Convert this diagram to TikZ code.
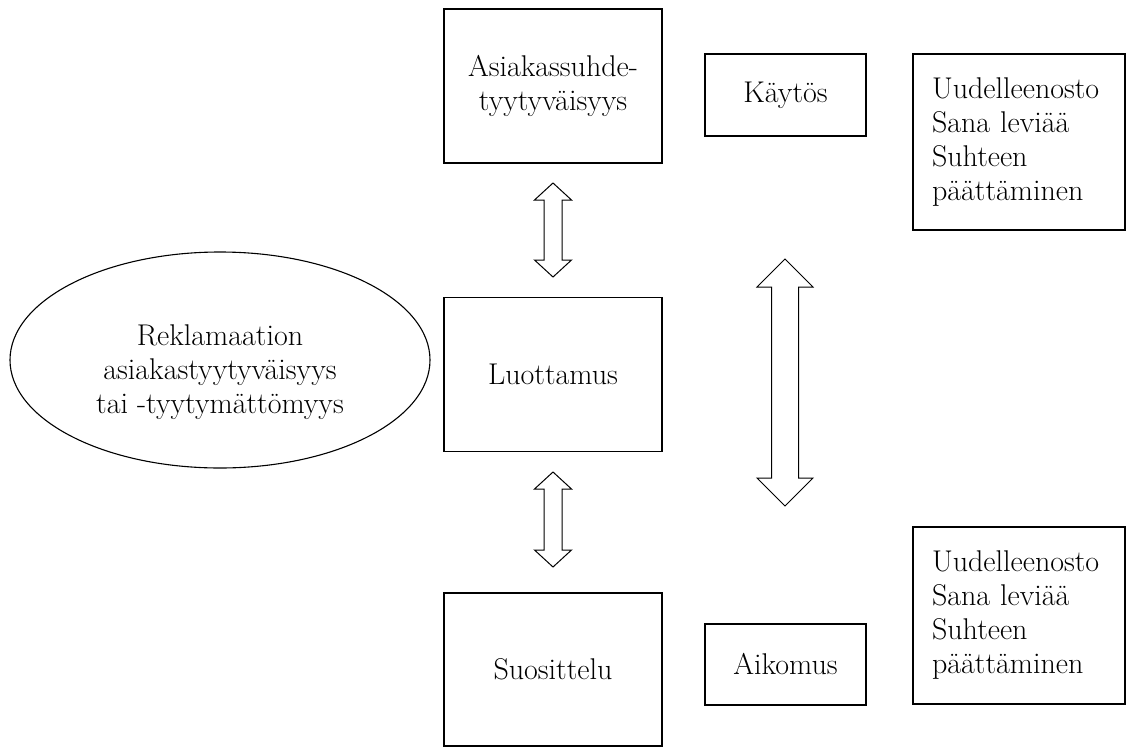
\documentclass[tikz,border=0pt]{standalone}
\usepackage{tikz}
\usetikzlibrary{positioning,shapes.geometric}

\begin{document}
\begin{tikzpicture}[x=1pt, y=-1pt,
  every node/.style={font=\fontsize{30}{34}\selectfont},
  box/.style={draw, line width=1.3pt, align=center, inner sep=0pt},
  mainbox/.style={box, minimum width=218pt, minimum height=154pt},
  actbox/.style={box, minimum width=161pt, minimum height=82pt},
  outbox/.style={box, align=left, minimum width=212pt, minimum height=177pt, text width=174pt},
  blockarr/.style={draw, line width=1pt, line join=miter, fill=white}
]
\useasboundingbox (0,0) rectangle (1127,747);
\node[draw, ellipse, line width=1.1pt, minimum width=420pt, minimum height=216pt, inner sep=0pt] (claim) at (220,360) {};
\node[align=center, inner sep=0pt] (claimtxt) at (220,372) {Reklamaation\\asiakastyytyväisyys\\tai -tyytymättömyys};
\node[mainbox] (sat) at (553,86) {Asiakassuhde-\\tyytyväisyys};
\node[mainbox] (trust) at (553,374.5) {Luottamus};
\node[mainbox, minimum height=153pt] (recom) at (553,669.5) {Suosittelu};
\node[actbox] (behav) at (785.5,95) {Käytös};
\node[actbox, minimum height=81pt] (intent) at (785.5,664.5) {Aikomus};
\node[outbox, minimum height=176pt] (out1) at (1019,142) {Uudelleenosto\\Sana leviää\\Suhteen\\päättäminen};
\node[outbox] (out2) at (1019,615.5) {Uudelleenosto\\Sana leviää\\Suhteen\\päättäminen};
% two-way block arrows
\foreach \x/\t/\b/\h/\s/\l in {553/183/277/18.5/9/17, 553/472/567/18.5/9/17, 785/259/506/28/13.5/28} {
  \draw[blockarr] (\x,\t) -- (\x+\h,\t+\l) -- (\x+\s,\t+\l) -- (\x+\s,\b-\l) -- (\x+\h,\b-\l) -- (\x,\b)
    -- (\x-\h,\b-\l) -- (\x-\s,\b-\l) -- (\x-\s,\t+\l) -- (\x-\h,\t+\l) -- cycle;
}
\end{tikzpicture}
\end{document}
